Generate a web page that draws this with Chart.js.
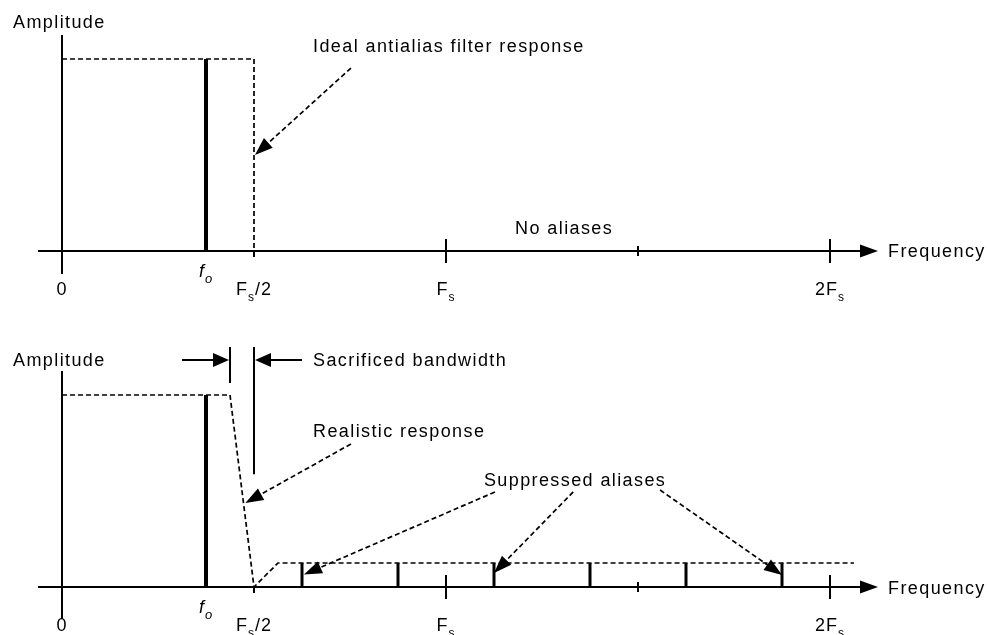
<!DOCTYPE html>
<html>
<head>
<meta charset="utf-8">
<script src="https://cdn.jsdelivr.net/npm/chart.js@4"></script>
<style>
  html, body { margin: 0; padding: 0; background: #fff; }
  #wrap { position: relative; width: 989px; height: 635px; }
  canvas { position: absolute; left: 0; }
  #top { top: 0; }
  #bottom { top: 320px; }
</style>
</head>
<body>
<div id="wrap">
  <canvas id="top" width="989" height="320"></canvas>
  <canvas id="bottom" width="989" height="315"></canvas>
</div>
<script>
// frequency in units where Fs = 8, amplitude in same units (full scale = 4)
const f0 = 3;
const fullScale = 4;
const idealX = [0, 4, 4];
const idealY = [4, 4, 0];
const realX = [0, 3.5, 4, 4.5, 16.5];
const realY = [4, 4, 0, 0.5, 0.5];
const aliasX = [5, 7, 9, 11, 13, 15];
const aliasY = [0.5, 0.5, 0.5, 0.5, 0.5, 0.5];
const bandEdges = [3.5, 4];
const tickVals = [4, 8, 12, 16];
const tickKinds = ['half', 'major', 'minor', 'major'];
const labelVals = [0, 3, 4, 8, 16];
const labelText = ['0', 'f_o', 'F_s/2', 'F_s', '2F_s'];

// view: 48 px per unit, origin at x=62
const unit = 48;
const xMin = -62 / unit, xMax = (989 - 62) / unit;

const FONT = '"Liberation Sans", Arial, sans-serif';

function arrowHead(ctx, sx, sy, tx, ty, len, half) {
  const a = Math.atan2(ty - sy, tx - sx);
  ctx.beginPath();
  ctx.moveTo(tx, ty);
  ctx.lineTo(tx - len * Math.cos(a) + half * Math.sin(a), ty - len * Math.sin(a) - half * Math.cos(a));
  ctx.lineTo(tx - len * Math.cos(a) - half * Math.sin(a), ty - len * Math.sin(a) + half * Math.cos(a));
  ctx.closePath();
  ctx.fill();
}

function line(ctx, x1, y1, x2, y2) {
  ctx.beginPath();
  ctx.moveTo(x1, y1);
  ctx.lineTo(x2, y2);
  ctx.stroke();
}

// text like 'F_s/2' -> subscript char after '_'
function richText(ctx, str, cx, y) {
  const italic = str.startsWith('f_');
  const parts = [];
  for (let i = 0; i < str.length; i++) {
    if (str[i] === '_') { parts.push({ t: str[i + 1], sub: true }); i++; }
    else parts.push({ t: str[i], sub: false });
  }
  const fontFor = p => (italic ? 'italic ' : '') + (p.sub ? (italic ? '13px ' : '12px ') : '18px ') + FONT;
  ctx.letterSpacing = '1px';
  let w = 0;
  parts.forEach(p => { ctx.font = fontFor(p); p.w = ctx.measureText(p.t).width; w += p.w; });
  let x = cx - w / 2;
  ctx.textAlign = 'left';
  ctx.textBaseline = 'alphabetic';
  parts.forEach(p => {
    ctx.font = fontFor(p);
    ctx.fillText(p.t, x, y + (p.sub ? 6 : 0));
    x += p.w;
  });
}

const diagram = {
  id: 'diagram',
  beforeDatasetsDraw(chart, args, opts) {
    const ctx = chart.ctx;
    const X = v => chart.scales.x.getPixelForValue(v);
    const Y = v => chart.scales.y.getPixelForValue(v);
    ctx.save();
    ctx.strokeStyle = '#000';
    ctx.fillStyle = '#000';
    ctx.lineWidth = 2;
    // amplitude axis
    line(ctx, X(0), Y(4.5), X(0), Y(opts.yAxisEnd));
    // frequency axis with arrow
    line(ctx, X(-0.5), Y(0), X(17) - 14, Y(0));
    arrowHead(ctx, X(0), Y(0), X(17), Y(0), 18, 6.5);
    tickVals.forEach((v, i) => {
      const k = tickKinds[i];
      if (k === 'major') line(ctx, X(v), Y(0) - 12, X(v), Y(0) + 12);
      else if (k === 'minor') line(ctx, X(v), Y(0) - 5, X(v), Y(0) + 5);
      else line(ctx, X(v), Y(0), X(v), Y(0) + 6);
    });
    labelVals.forEach((v, i) => {
      const t = labelText[i];
      richText(ctx, t, X(v), Y(0) + (t.startsWith('f') ? 26 : 44));
    });
    ctx.restore();
  },
  afterDatasetsDraw(chart, args, opts) {
    const ctx = chart.ctx;
    const X = v => chart.scales.x.getPixelForValue(v);
    const Y = v => chart.scales.y.getPixelForValue(v);
    ctx.save();
    ctx.fillStyle = '#000';
    ctx.strokeStyle = '#000';
    ctx.font = '18px ' + FONT;
    ctx.letterSpacing = '1.4px';
    ctx.textAlign = 'left';
    ctx.textBaseline = 'alphabetic';
    (opts.texts || []).forEach(t => ctx.fillText(t.text, X(t.x), Y(t.y)));
    // dashed leaders with arrowheads
    (opts.leaders || []).forEach(l => {
      const sx = X(l.from[0]), sy = Y(l.from[1]);
      const tx = X(l.to[0]), ty = Y(l.to[1]);
      const d = Math.hypot(tx - sx, ty - sy);
      ctx.lineWidth = 1.7;
      ctx.setLineDash([5, 3]);
      line(ctx, sx, sy, tx - (tx - sx) / d * 14, ty - (ty - sy) / d * 14);
      ctx.setLineDash([]);
      arrowHead(ctx, sx, sy, tx, ty, 18, 6.5);
    });
    // sacrificed bandwidth markers
    if (opts.band) {
      const b = opts.band;
      ctx.lineWidth = 2;
      line(ctx, X(bandEdges[0]), Y(b.top), X(bandEdges[0]), Y(b.lowA));
      line(ctx, X(bandEdges[1]), Y(b.top), X(bandEdges[1]), Y(b.lowB));
      line(ctx, X(bandEdges[0] - 1), Y(b.arrowY), X(bandEdges[0]) - 14, Y(b.arrowY));
      arrowHead(ctx, X(bandEdges[0] - 1), Y(b.arrowY), X(bandEdges[0]) - 1, Y(b.arrowY), 16, 7);
      line(ctx, X(bandEdges[1] + 1), Y(b.arrowY), X(bandEdges[1]) + 14, Y(b.arrowY));
      arrowHead(ctx, X(bandEdges[1] + 1), Y(b.arrowY), X(bandEdges[1]) + 1, Y(b.arrowY), 16, 7);
    }
    ctx.restore();
  }
};

function dashed(xs, ys) {
  return {
    data: xs.map((x, i) => ({ x, y: ys[i] })),
    showLine: true, borderColor: '#000', borderWidth: 1.7, borderDash: [5, 3],
    pointRadius: 0, fill: false, clip: false, borderJoinStyle: 'miter'
  };
}
function bar(x, h, w) {
  return {
    data: [{ x, y: 0 }, { x, y: h }],
    showLine: true, borderColor: '#000', borderWidth: w, borderCapStyle: 'butt',
    pointRadius: 0, fill: false, clip: false
  };
}

function makeChart(id, datasets, yMin, yMax, diagramOpts) {
  return new Chart(document.getElementById(id), {
    type: 'scatter',
    data: { datasets },
    options: {
      responsive: false,
      animation: false,
      events: [],
      layout: { padding: 0 },
      plugins: { legend: { display: false }, tooltip: { enabled: false }, diagram: diagramOpts },
      scales: {
        x: { type: 'linear', min: xMin, max: xMax, display: false },
        y: { type: 'linear', min: yMin, max: yMax, display: false }
      }
    },
    plugins: [diagram]
  });
}

// top: ideal filter
makeChart('top', [
  dashed(idealX, idealY),
  bar(f0, fullScale, 4)
], -69 / unit, 251 / unit, {
  yAxisEnd: -0.48,
  texts: [
    { text: 'Amplitude', x: -1.02, y: 4.65 },
    { text: 'Ideal antialias filter response', x: 5.23, y: 4.15 },
    { text: 'No aliases', x: 9.44, y: 0.36 },
    { text: 'Frequency', x: 17.21, y: -0.13 }
  ],
  leaders: [{ from: [6.02, 3.81], to: [4.02, 2.0] }]
});

// bottom: realistic filter
makeChart('bottom', [
  dashed(realX, realY),
  bar(f0, fullScale, 4),
  ...aliasX.map((x, i) => bar(x, aliasY[i], 3))
], -48 / unit, 267 / unit, {
  yAxisEnd: -0.66,
  texts: [
    { text: 'Amplitude', x: -1.02, y: 4.6 },
    { text: 'Sacrificed bandwidth', x: 5.23, y: 4.6 },
    { text: 'Realistic response', x: 5.23, y: 3.12 },
    { text: 'Suppressed aliases', x: 8.79, y: 2.1 },
    { text: 'Frequency', x: 17.21, y: -0.15 }
  ],
  leaders: [
    { from: [6.02, 2.98], to: [3.82, 1.75] },
    { from: [9.02, 1.98], to: [5.04, 0.26] },
    { from: [10.65, 1.98], to: [9.0, 0.29] },
    { from: [12.46, 2.02], to: [15.0, 0.25] }
  ],
  band: { top: 5.0, lowA: 4.25, lowB: 2.35, arrowY: 4.73 }
});
</script>
</body>
</html>
